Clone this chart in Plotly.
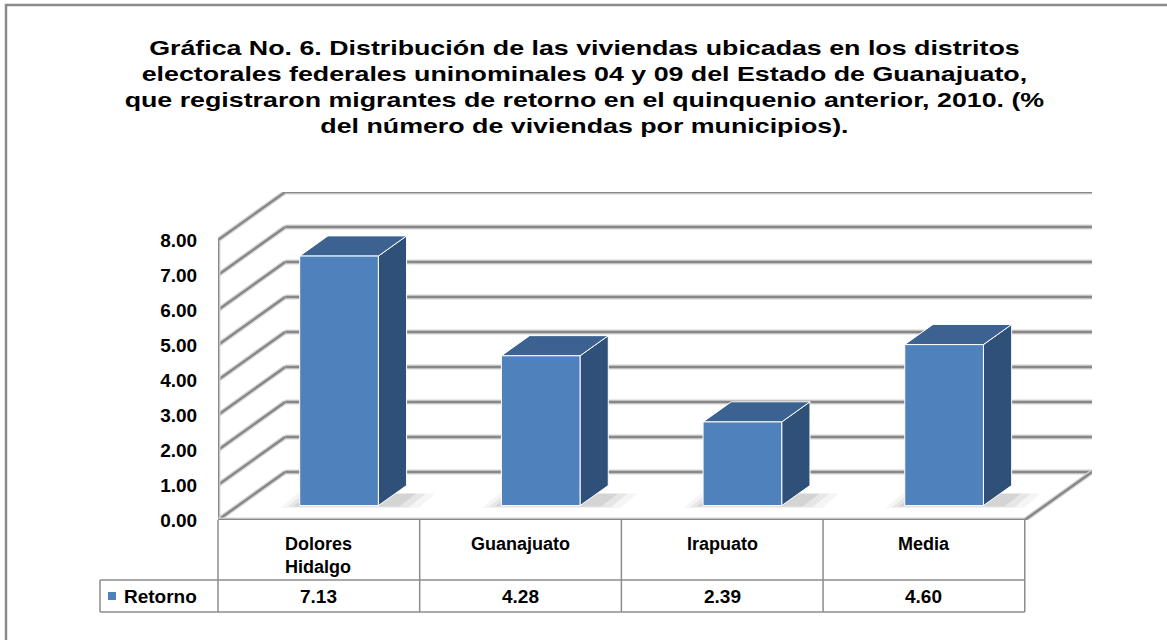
import plotly.graph_objects as go

# ---------------- data ----------------
categories = ["Dolores<br>Hidalgo", "Guanajuato", "Irapuato", "Media"]
series_name = "Retorno"
values = [7.13, 4.28, 2.39, 4.60]
y_ticks = [0, 1, 2, 3, 4, 5, 6, 7, 8]
title_text = ("Gráfica No. 6. Distribución de las viviendas ubicadas en los distritos<br>"
              "electorales federales uninominales 04 y 09 del Estado de Guanajuato,<br>"
              "que registraron migrantes de retorno en el quinquenio anterior, 2010. (%<br>"
              "del número de viviendas por municipios).")

# ---------------- style / geometry ----------------
FONT = "Liberation Sans, Arial, sans-serif"
W, H = 1167, 640
PL, PR, PT, PB = 218, 1092, 192, 520          # plot area in pixels
DX = 1 / 3.0                                  # oblique depth offset (x units)
YMAX = max(y_ticks)
DY = 48 / ((PB - PT - 48) / YMAX)             # depth offset (y units)
BW, D0, DB = 0.39, 0.30, 0.42                 # bar width, front depth, bar depth
FRONT, TOP, SIDE = "#4F81BD", "#3B6290", "#2F5078"
GRID = "#878787"

n = len(values)
x_lo, x_hi = -0.5, n - 0.5 + DX
y_lo, y_hi = 0, YMAX + DY


def ppx(p):   # pixel -> paper x
    return (p - PL) / (PR - PL)


def ppy(p):   # pixel -> paper y
    return (PB - p) / (PB - PT)


def dxp(x):   # data x -> paper x
    return (x - x_lo) / (x_hi - x_lo)


fig = go.Figure()


def line(xs, ys, color=GRID, width=2.4):
    fig.add_trace(go.Scatter(x=xs, y=ys, mode="lines", hoverinfo="skip",
                             line=dict(color="#d4d4d4", width=width + 2.5), showlegend=False))
    fig.add_trace(go.Scatter(x=xs, y=ys, mode="lines", hoverinfo="skip",
                             line=dict(color=color, width=width), showlegend=False))


# back wall gridlines and left wall diagonals
for k in y_ticks:
    line([x_lo + DX, x_hi], [k + DY, k + DY])
    line([x_lo, x_lo + DX], [k, k + DY])
line([x_lo, x_lo], [0, YMAX])                       # left wall front edge
line([x_lo, n - 0.5, n - 0.5 + DX], [0, 0, DY])     # floor


def poly(xs, ys, fill, lw=1.0, lc="white"):
    fig.add_trace(go.Scatter(x=xs + [xs[0]], y=ys + [ys[0]], mode="lines", fill="toself",
                             fillcolor=fill, line=dict(color=lc, width=lw),
                             hoverinfo="skip", showlegend=False))


# bars
for i, v in enumerate(values):
    x0 = i - BW / 2 + D0 * DX
    x1 = i + BW / 2 + D0 * DX
    yb = D0 * DY
    yt = v + D0 * DY
    ox, oy = DB * DX, DB * DY
    for grow, a in [(0.12, 0.04), (0.08, 0.06), (0.04, 0.08)]:
        sx0, sx1 = x0 - grow * 0.8, x1 + ox + grow * 1.2
        poly([sx0, sx1 - ox * 0.6, sx1, sx0 + ox * 0.6],
             [yb - grow * 0.6, yb - grow * 0.6, yb + oy * 0.6, yb + oy * 0.6],
             f"rgba(0,0,0,{a})", lw=0, lc="rgba(0,0,0,0)")
    poly([x1, x1 + ox, x1 + ox, x1], [yb, yb + oy, yt + oy, yt], SIDE)
    poly([x0, x1, x1 + ox, x0 + ox], [yt, yt, yt + oy, yt + oy], TOP)
    poly([x0, x1, x1, x0], [yb, yb, yt, yt], FRONT)

shapes = []
TL = "#8c8c8c"


def seg(x0, y0, x1, y1, w=1.5, c=TL):
    shapes.append(dict(type="line", xref="paper", yref="paper", x0=x0, y0=y0, x1=x1, y1=y1,
                       line=dict(color=c, width=w)))


# outer frame
shapes.append(dict(type="rect", xref="paper", yref="paper", x0=ppx(6), y0=ppy(5),
                   x1=ppx(1180), y1=ppy(660), line=dict(color="#8a8a8a", width=2.5)))
# data table
for b in [i - 0.5 for i in range(n + 1)]:
    seg(dxp(b), ppy(PB), dxp(b), ppy(612))
seg(ppx(100), ppy(580), dxp(n - 0.5), ppy(580))
seg(ppx(100), ppy(612), dxp(n - 0.5), ppy(612))
seg(ppx(100), ppy(580), ppx(100), ppy(612))
# legend key
shapes.append(dict(type="rect", xref="paper", yref="paper", x0=ppx(108), x1=ppx(116),
                   y0=ppy(600), y1=ppy(592), fillcolor=FRONT, line=dict(width=0)))

annotations = []
annotations.append(dict(xref="paper", yref="paper", x=ppx(584), y=ppy(87), text=f"<b>{title_text}</b>",
                        showarrow=False, xanchor="center", yanchor="middle",
                        font=dict(family=FONT, size=20, color="black")))
tf = dict(family=FONT, size=19, color="black")
hf = dict(family=FONT, size=18, color="black")
annotations.append(dict(xref="paper", yref="paper", x=ppx(122), y=ppy(596), text=f"<b>{series_name}</b>",
                        showarrow=False, xanchor="left", yanchor="middle", font=tf))
for i, (c, v) in enumerate(zip(categories, values)):
    annotations.append(dict(xref="x", yref="paper", x=i, y=ppy(532), text=f"<b>{c}</b>",
                            showarrow=False, xanchor="center", yanchor="top", font=hf, align="left"))
    annotations.append(dict(xref="x", yref="paper", x=i, y=ppy(596), text=f"<b>{v:.2f}</b>",
                            showarrow=False, xanchor="center", yanchor="middle", font=tf))

fig.update_layout(
    width=W, height=H,
    margin=dict(l=PL, r=W - PR, t=PT, b=H - PB, pad=0),
    paper_bgcolor="white", plot_bgcolor="rgba(0,0,0,0)",
    showlegend=False,
    shapes=shapes, annotations=annotations,
    xaxis=dict(range=[x_lo, x_hi], visible=False, fixedrange=True),
    yaxis=dict(range=[y_lo, y_hi], showgrid=False, zeroline=False, showline=False,
               tickvals=y_ticks, ticktext=[f"<b>{t:.2f}</b>" for t in y_ticks],
               tickfont=dict(family=FONT, size=19, color="black"),
               ticks="outside", ticklen=16, tickcolor="rgba(0,0,0,0)", fixedrange=True),
)

# page without body margin; the reference title is set in a horizontally stretched face
post = """
document.body.style.margin = '0';
var t = document.querySelector('.annotation[data-index="0"] .annotation-text');
if (t) { t.style.transformBox = 'fill-box'; t.style.transformOrigin = 'center';
         t.style.transform = 'scaleX(1.34)'; }
"""
fig.write_html("out.html", post_script=post, config={"displayModeBar": False})
